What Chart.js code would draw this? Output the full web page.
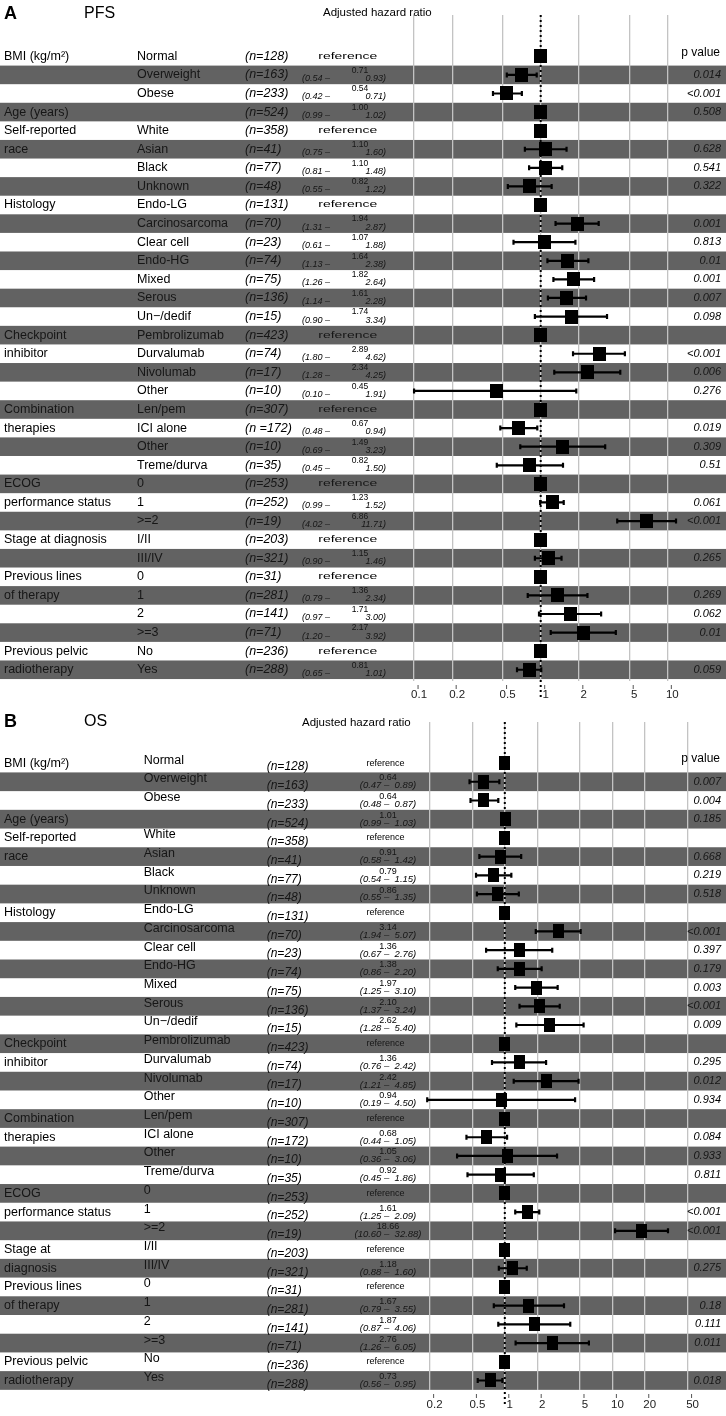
<!DOCTYPE html>
<html>
<head>
<meta charset="utf-8">
<script src="https://cdn.jsdelivr.net/npm/chart.js@4.4.1/dist/chart.umd.min.js"></script>
<style>
  html, body { margin: 0; padding: 0; background: #fff; }
  .panel { position: relative; width: 726px; height: 708px; }
</style>
</head>
<body>
<div class="panel"><canvas id="pfs-chart"></canvas></div>
<div class="panel"><canvas id="os-chart"></canvas></div>
<script>
// rows shared by both panels
const subgroups = ['Normal', 'Overweight', 'Obese', '', 'White', 'Asian', 'Black', 'Unknown',
  'Endo-LG', 'Carcinosarcoma', 'Clear cell', 'Endo-HG', 'Mixed', 'Serous', 'Un\u2212/dedif',
  'Pembrolizumab', 'Durvalumab', 'Nivolumab', 'Other', 'Len/pem', 'ICI alone', 'Other', 'Treme/durva',
  '0', '1', '>=2', 'I/II', 'III/IV', '0', '1', '2', '>=3', 'No', 'Yes'];
const counts = [128, 163, 233, 524, 358, 41, 77, 48, 131, 70, 23, 74, 75, 136, 15, 423, 74, 17, 10,
  307, 172, 10, 35, 253, 252, 19, 203, 321, 31, 281, 141, 71, 236, 288];

// panel A - PFS
const groupsA = ['BMI (kg/m\u00b2)', '', '', 'Age (years)', 'Self-reported', 'race', '', '', 'Histology',
  '', '', '', '', '', '', 'Checkpoint', 'inhibitor', '', '', 'Combination', 'therapies', '', '', 'ECOG',
  'performance status', '', 'Stage at diagnosis', '', 'Previous lines', 'of therapy', '', '',
  'Previous pelvic', 'radiotherapy'];
const hrA = [null, 0.71, 0.54, 1.00, null, 1.10, 1.10, 0.82, null, 1.94, 1.07, 1.64, 1.82, 1.61, 1.74,
  null, 2.89, 2.34, 0.45, null, 0.67, 1.49, 0.82, null, 1.23, 6.86, null, 1.15, null, 1.36, 1.71, 2.17, null, 0.81];
const loA = [null, 0.54, 0.42, 0.99, null, 0.75, 0.81, 0.55, null, 1.31, 0.61, 1.13, 1.26, 1.14, 0.90,
  null, 1.80, 1.28, 0.10, null, 0.48, 0.69, 0.45, null, 0.99, 4.02, null, 0.90, null, 0.79, 0.97, 1.20, null, 0.65];
const hiA = [null, 0.93, 0.71, 1.02, null, 1.60, 1.48, 1.22, null, 2.87, 1.88, 2.38, 2.64, 2.28, 3.34,
  null, 4.62, 4.25, 1.91, null, 0.94, 3.23, 1.50, null, 1.52, 11.71, null, 1.46, null, 2.34, 3.00, 3.92, null, 1.01];
const pA = ['', '0.014', '<0.001', '0.508', '', '0.628', '0.541', '0.322', '', '0.001', '0.813', '0.01',
  '0.001', '0.007', '0.098', '', '<0.001', '0.006', '0.276', '', '0.019', '0.309', '0.51', '', '0.061',
  '<0.001', '', '0.265', '', '0.269', '0.062', '0.01', '', '0.059'];
const ticksA = [0.1, 0.2, 0.5, 1, 2, 5, 10];

// panel B - OS
const groupsB = ['BMI (kg/m\u00b2)', '', '', 'Age (years)', 'Self-reported', 'race', '', '', 'Histology',
  '', '', '', '', '', '', 'Checkpoint', 'inhibitor', '', '', 'Combination', 'therapies', '', '', 'ECOG',
  'performance status', '', 'Stage at', 'diagnosis', 'Previous lines', 'of therapy', '', '',
  'Previous pelvic', 'radiotherapy'];
const hrB = [null, 0.64, 0.64, 1.01, null, 0.91, 0.79, 0.86, null, 3.14, 1.36, 1.38, 1.97, 2.10, 2.62,
  null, 1.36, 2.42, 0.94, null, 0.68, 1.05, 0.92, null, 1.61, 18.66, null, 1.18, null, 1.67, 1.87, 2.76, null, 0.73];
const loB = [null, 0.47, 0.48, 0.99, null, 0.58, 0.54, 0.55, null, 1.94, 0.67, 0.86, 1.25, 1.37, 1.28,
  null, 0.76, 1.21, 0.19, null, 0.44, 0.36, 0.45, null, 1.25, 10.60, null, 0.88, null, 0.79, 0.87, 1.26, null, 0.56];
const hiB = [null, 0.89, 0.87, 1.03, null, 1.42, 1.15, 1.35, null, 5.07, 2.76, 2.20, 3.10, 3.24, 5.40,
  null, 2.42, 4.85, 4.50, null, 1.05, 3.06, 1.86, null, 2.09, 32.88, null, 1.60, null, 3.55, 4.06, 6.05, null, 0.95];
const pB = ['', '0.007', '0.004', '0.185', '', '0.668', '0.219', '0.518', '', '<0.001', '0.397', '0.179',
  '0.003', '<0.001', '0.009', '', '0.295', '0.012', '0.934', '', '0.084', '0.933', '0.811', '', '<0.001',
  '<0.001', '', '0.275', '', '0.18', '0.111', '0.011', '', '0.018'];
const ticksB = [0.2, 0.5, 1, 2, 5, 10, 20, 50];

const FONT = '"Liberation Sans", Arial, Helvetica, sans-serif';
const BAND = '#626262';

function squareStyle(w, h) {
  const c = document.createElement('canvas');
  c.width = w;
  c.height = h;
  const g = c.getContext('2d');
  g.fillStyle = '#000';
  g.fillRect(0, 0, w, h);
  return c;
}

function text(ctx, s, x, y, font, align, color) {
  ctx.font = font;
  ctx.textAlign = align || 'left';
  ctx.textBaseline = 'middle';
  ctx.fillStyle = color || '#000';
  ctx.fillText(s, x, y);
}

function makeForestPlugin(pn) {
  return {
    id: 'forest' + pn.letter,
    beforeDraw(chart) {
      const { ctx, width, height, scales: { y } } = chart;
      ctx.save();
      ctx.fillStyle = '#fff';
      ctx.fillRect(0, 0, width, height);
      ctx.fillStyle = BAND;
      for (let i = 1; i < pn.hr.length; i += 2) {
        const t = y.getPixelForValue(i - 0.5);
        const b = y.getPixelForValue(i + 0.5);
        ctx.fillRect(0, t, width, b - t);
      }
      ctx.restore();
    },
    beforeDatasetsDraw(chart) {
      const { ctx, chartArea, scales: { x, y } } = chart;
      const x1 = x.getPixelForValue(1);
      ctx.save();
      ctx.strokeStyle = '#000';
      ctx.lineWidth = 2;
      ctx.setLineDash([2, 3]);
      ctx.beginPath();
      ctx.moveTo(x1, chartArea.top);
      ctx.lineTo(x1, chartArea.bottom + 17);
      ctx.stroke();
      ctx.setLineDash([]);

      // confidence intervals
      ctx.lineWidth = 2.2;
      pn.hr.forEach((v, i) => {
        if (v == null) return;
        const yy = y.getPixelForValue(i);
        const a = x.getPixelForValue(pn.lo[i]);
        const b = x.getPixelForValue(pn.hi[i]);
        ctx.beginPath();
        ctx.moveTo(a, yy);
        ctx.lineTo(b, yy);
        ctx.moveTo(a, yy - 2.5);
        ctx.lineTo(a, yy + 2.5);
        ctx.moveTo(b, yy - 2.5);
        ctx.lineTo(b, yy + 2.5);
        ctx.stroke();
      });
      ctx.restore();
    },
    afterDraw(chart) {
      const { ctx, chartArea, scales: { x, y } } = chart;
      const t = pn.text;
      ctx.save();

      // small tick marks above the axis labels
      ctx.strokeStyle = '#555';
      ctx.lineWidth = 1;
      pn.ticks.forEach(v => {
        const px = x.getPixelForValue(v) + 4;
        ctx.beginPath();
        ctx.moveTo(px, chartArea.bottom + 4);
        ctx.lineTo(px, chartArea.bottom + 8);
        ctx.stroke();
      });

      text(ctx, pn.letter, 4, 14, 'bold 18px ' + FONT);
      text(ctx, pn.title, 84, 14, '16px ' + FONT);
      text(ctx, 'Adjusted hazard ratio', t.titleX, t.titleY, '11.5px ' + FONT);
      text(ctx, 'p value', 720, y.getPixelForValue(0) - 4, '12px ' + FONT, 'right');

      pn.hr.forEach((v, i) => {
        const yy = y.getPixelForValue(i);
        const dark = i % 2 === 1;
        const col = dark ? '#161616' : '#000';
        text(ctx, pn.groups[i], 4, yy, '12.5px ' + FONT, 'left', col);
        text(ctx, subgroups[i], t.subX, yy + t.subDy, '12.5px ' + FONT, 'left', col);
        text(ctx, pn.n[i], t.nX, yy + t.nDy, 'italic ' + t.nSize + 'px ' + FONT, 'left', col);

        if (v == null) {
          ctx.save();
          ctx.translate(t.refX, yy);
          ctx.scale(t.refStretch, 1);
          text(ctx, 'reference', 0, 0, '9px ' + FONT, 'center', col);
          ctx.restore();
        } else if (t.split) {
          text(ctx, v.toFixed(2), t.valX, yy - 4.5, '8.5px ' + FONT, 'center', col);
          text(ctx, '(' + pn.lo[i].toFixed(2) + ' \u2013', t.ciL, yy + 3.5, 'italic 9px ' + FONT, 'left', col);
          text(ctx, pn.hi[i].toFixed(2) + ')', t.ciR, yy + 3.5, 'italic 9px ' + FONT, 'right', col);
        } else {
          text(ctx, v.toFixed(2), t.valX, yy - 4, '9px ' + FONT, 'center', col);
          text(ctx, '(' + pn.lo[i].toFixed(2) + ' \u2013  ' + pn.hi[i].toFixed(2) + ')', t.valX, yy + 3.8,
            'italic 9.5px ' + FONT, 'center', col);
        }
        if (pn.p[i]) {
          text(ctx, pn.p[i], 721, yy, 'italic 11px ' + FONT, 'right', col);
        }
      });
      ctx.restore();
    }
  };
}

function makePanel(canvasId, pn) {
  const chartBottom = 708 - pn.axisH;
  const yMin = -0.5 - (pn.rowTop - pn.top) / pn.rowH;
  const yMax = -0.5 + (chartBottom - pn.rowTop) / pn.rowH;
  const xMin = Math.pow(10, -pn.one / pn.decade);
  const xMax = Math.pow(10, (726 - pn.one) / pn.decade);

  return new Chart(document.getElementById(canvasId), {
    type: 'scatter',
    data: {
      datasets: [{
        data: pn.hr.map((v, i) => ({ x: v == null ? 1 : v, y: i })),
        pointStyle: squareStyle(pn.sqW, pn.sqH),
        pointRadius: 7,
        pointHoverRadius: 7
      }]
    },
    options: {
      responsive: true,
      maintainAspectRatio: false,
      animation: false,
      events: [],
      layout: { padding: { top: pn.top, left: 0, right: 0, bottom: 0 } },
      scales: {
        x: {
          type: 'logarithmic',
          min: xMin,
          max: xMax,
          afterBuildTicks: axis => { axis.ticks = pn.ticks.map(v => ({ value: v })); },
          afterFit: axis => { axis.height = pn.axisH; },
          border: { display: false },
          grid: { color: '#c3c3c3', lineWidth: 1.3, drawTicks: false },
          ticks: {
            callback: v => String(v),
            font: { family: FONT, size: 11.5 },
            color: '#222',
            padding: pn.labelPad,
            labelOffset: 5,
            maxRotation: 0,
            autoSkip: false
          }
        },
        y: { type: 'linear', reverse: true, min: yMin, max: yMax, display: false }
      },
      plugins: {
        legend: { display: false },
        tooltip: { enabled: false }
      }
    },
    plugins: [makeForestPlugin(pn)]
  });
}

makePanel('pfs-chart', {
  letter: 'A', title: 'PFS',
  groups: groupsA, hr: hrA, lo: loA, hi: hiA, p: pA, ticks: ticksA,
  n: counts.map((n, i) => (i === 20 ? '(n =' + n + ')' : '(n=' + n + ')')),
  top: 15, rowTop: 47, rowH: 18.59, axisH: 27, one: 544.7, decade: 129.5, labelPad: 7,
  sqW: 13, sqH: 14,
  text: { titleX: 323, titleY: 13, subX: 137, subDy: 0, nX: 245, nDy: 0, nSize: 12.5,
    split: true, valX: 360, ciL: 302, ciR: 386, refX: 347.7, refStretch: 1.55 }
});

makePanel('os-chart', {
  letter: 'B', title: 'OS',
  groups: groupsB, hr: hrB, lo: loB, hi: hiB, p: pB, ticks: ticksB,
  n: counts.map(n => '(n=' + n + ')'),
  top: 14, rowTop: 45.7, rowH: 18.71, axisH: 26, one: 508, decade: 110, labelPad: 8,
  sqW: 11, sqH: 14,
  text: { titleX: 302, titleY: 15, subX: 143.7, subDy: -3, nX: 266.7, nDy: 4, nSize: 12,
    split: false, valX: 388, refX: 385.5, refStretch: 1 }
});
</script>
</body>
</html>
